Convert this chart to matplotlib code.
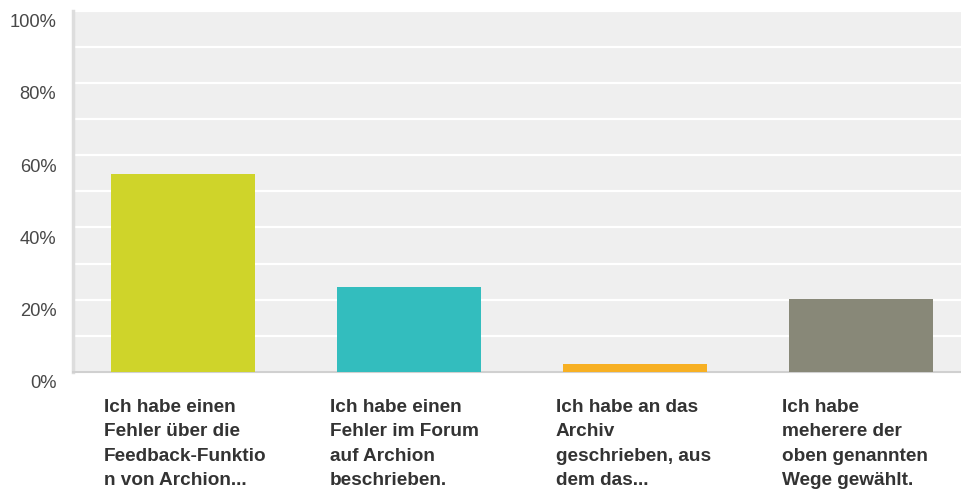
"""
Survey result bar chart: how users reported an error to Archion.
Writes out.png (961x491).
"""
import numpy as np
import matplotlib
matplotlib.use("Agg")
import matplotlib.pyplot as plt
import matplotlib.transforms as mtransforms

plt.rcParams["font.family"] = ["Liberation Sans", "DejaVu Sans"]

# ----------------------- data -----------------------
categories = [
    "Ich habe einen\nFehler über die\nFeedback-Funktio\nn von Archion...",
    "Ich habe einen\nFehler im Forum\nauf Archion\nbeschrieben.",
    "Ich habe an das\nArchiv\ngeschrieben, aus\ndem das...",
    "Ich habe\nmeherere der\noben genannten\nWege gewählt.",
]
shares = [54.7, 23.4, 2.2, 20.1]          # percent of respondents
bar_colors = ["#CFD42A", "#33BDBE", "#F7B023", "#888878"]
yticks = [0, 20, 40, 60, 80, 100]
ytick_labels = ["0%", "20%", "40%", "60%", "80%", "100%"]
minor_yticks = [10, 30, 50, 70, 90]

W, H = 961, 491


def main():
    fig = plt.figure(figsize=(W / 100, H / 100), dpi=100)
    # plot area in pixel coords: x 73..961, y 10.5..372 (from top)
    ax = fig.add_axes([73 / W, (H - 372) / H, (W - 73) / W, 361.5 / H])
    ax.set_facecolor("#EFEFEF")

    x = np.arange(len(categories))
    ax.bar(x, shares, width=0.64, color=bar_colors, zorder=3)

    ax.set_ylim(0, 100)
    ax.set_xlim(-0.487, 3.442)

    # white gridlines every 10 %
    ax.set_yticks(yticks)
    ax.set_yticks(minor_yticks, minor=True)
    ax.grid(axis="y", which="both", color="white", lw=1.6, zorder=1)
    ax.set_axisbelow(True)

    ax.set_yticklabels(ytick_labels, fontsize=13.2, color="#484848")
    ax.tick_params(axis="y", which="both", length=0, pad=12)
    ax.tick_params(axis="x", length=0, labelbottom=False)
    # labels sit a little below their gridline, like the original
    shift = mtransforms.ScaledTranslation(0, -10 / 100, fig.dpi_scale_trans)
    for lab in ax.get_yticklabels():
        lab.set_transform(lab.get_transform() + shift)

    for side in ("top", "right"):
        ax.spines[side].set_visible(False)
    ax.spines["left"].set_color("#DDDDDD")
    ax.spines["left"].set_linewidth(2.5)
    ax.spines["bottom"].set_color("#D0D0D0")
    ax.spines["bottom"].set_linewidth(1.5)

    # category labels below the bars, left aligned
    trans = mtransforms.blended_transform_factory(ax.transData, fig.transFigure)
    for i, txt in enumerate(categories):
        ax.text(i - 0.35, 1 - 399 / H, txt, transform=trans, ha="left", va="top",
                fontsize=13.7, fontweight="bold", color="#333333",
                linespacing=1.56, clip_on=False)

    fig.savefig("out.png", dpi=100)


if __name__ == "__main__":
    main()
